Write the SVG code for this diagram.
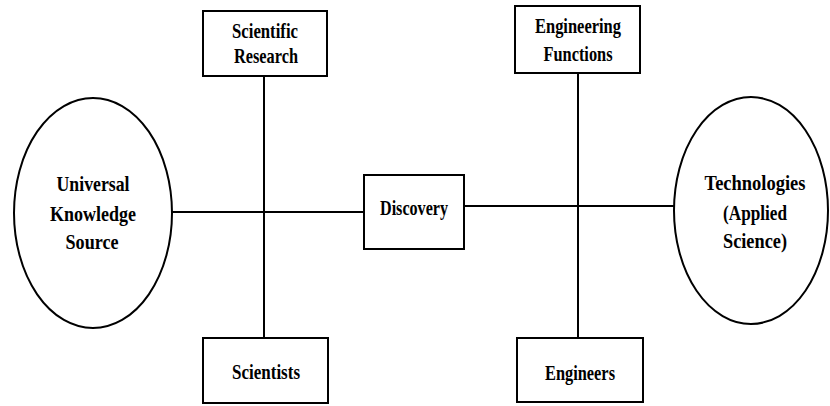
<svg xmlns="http://www.w3.org/2000/svg" width="830" height="406" viewBox="0 0 830 406">
<style>
.n{fill:#fff;stroke:#000;stroke-width:2}
.c line{stroke:#000;stroke-width:2}
text{font-family:"Liberation Serif","Times New Roman",serif;font-weight:bold;font-size:21px;fill:#000;text-anchor:middle}
</style>
<rect width="830" height="406" fill="#fff"/>
<g class="c" id="connectors">
<line x1="172" y1="212" x2="364" y2="212"/>
<line x1="264" y1="76" x2="264" y2="338"/>
<line x1="464" y1="206" x2="674" y2="206"/>
<line x1="578" y1="73" x2="578" y2="338"/>
</g>
<g id="universal">
<ellipse class="n" cx="93" cy="213" rx="79" ry="115"/>
<text x="93" y="191" textLength="73" lengthAdjust="spacingAndGlyphs">Universal</text>
<text x="93" y="221" textLength="86" lengthAdjust="spacingAndGlyphs">Knowledge</text>
<text x="92" y="249" textLength="53" lengthAdjust="spacingAndGlyphs">Source</text>
</g>
<g id="research">
<rect class="n" x="203" y="11" width="124" height="65"/>
<text x="265" y="38" textLength="66" lengthAdjust="spacingAndGlyphs">Scientific</text>
<text x="266" y="63" textLength="64" lengthAdjust="spacingAndGlyphs">Research</text>
</g>
<g id="scientists">
<rect class="n" x="203" y="338" width="125" height="65"/>
<text x="266" y="379" textLength="68" lengthAdjust="spacingAndGlyphs">Scientists</text>
</g>
<g id="discovery">
<rect class="n" x="364" y="175" width="100" height="74"/>
<text x="414" y="215" textLength="68" lengthAdjust="spacingAndGlyphs">Discovery</text>
</g>
<g id="engfunctions">
<rect class="n" x="515" y="6" width="125" height="67"/>
<text x="578" y="33" textLength="86" lengthAdjust="spacingAndGlyphs">Engineering</text>
<text x="578" y="61" textLength="69" lengthAdjust="spacingAndGlyphs">Functions</text>
</g>
<g id="engineers">
<rect class="n" x="517" y="338" width="126" height="64"/>
<text x="580" y="380" textLength="70" lengthAdjust="spacingAndGlyphs">Engineers</text>
</g>
<g id="technologies">
<ellipse class="n" cx="751" cy="210.5" rx="77" ry="113.5"/>
<text x="755" y="190" textLength="101" lengthAdjust="spacingAndGlyphs">Technologies</text>
<text x="755" y="220" textLength="64" lengthAdjust="spacingAndGlyphs">(Applied</text>
<text x="755" y="248" textLength="64" lengthAdjust="spacingAndGlyphs">Science)</text>
</g>
</svg>
